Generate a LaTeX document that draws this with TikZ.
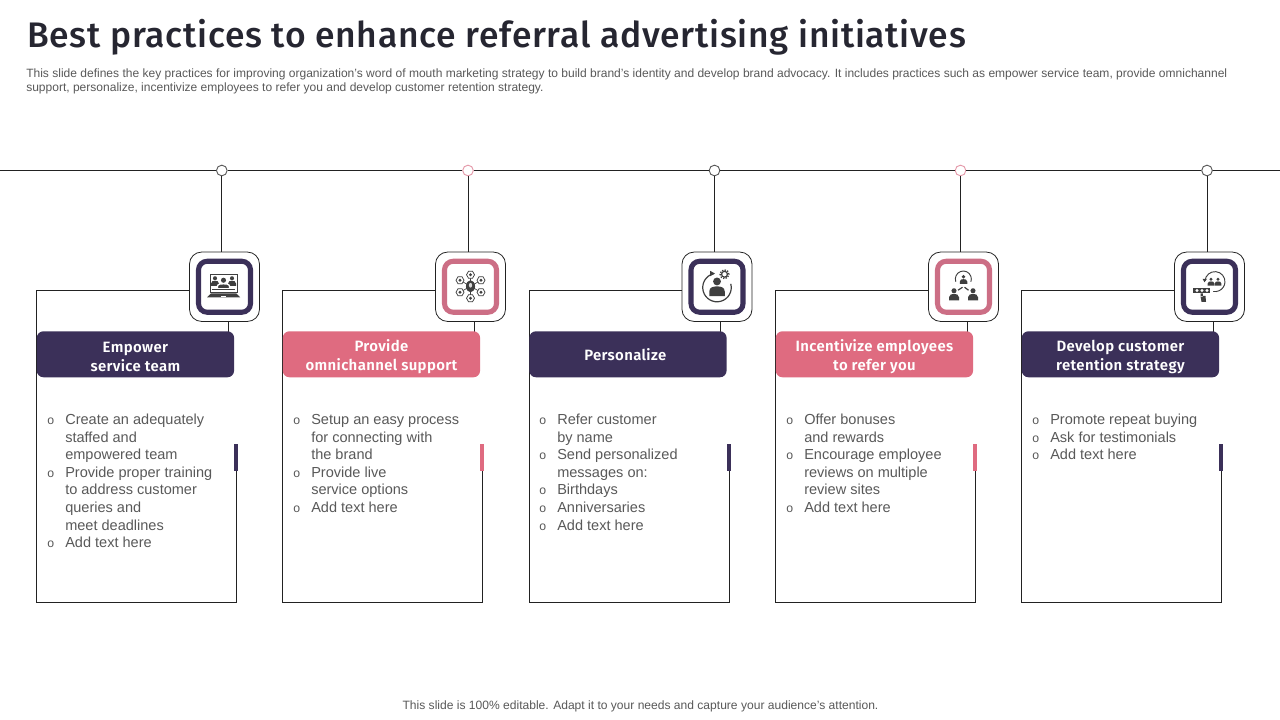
\documentclass[tikz,border=0pt]{standalone}
\usepackage{fontspec}
\setmainfont{Liberation Sans}
\newfontfamily\titlefont[LetterSpace=2.0]{Fira Sans Medium}
\newfontfamily\bannerfont[LetterSpace=2.4]{Fira Sans SemiBold}
\usetikzlibrary{arrows.meta}
\definecolor{navy}{HTML}{3B3059}
\definecolor{rose}{HTML}{DF6B80}
\definecolor{rosering}{HTML}{CC6E85}
\definecolor{rosedot}{HTML}{E59AAA}
\definecolor{dotgrey}{HTML}{5A5A5A}
\definecolor{ink}{HTML}{222222}
\definecolor{glyph}{HTML}{3F3F3F}
\definecolor{bodytext}{HTML}{595959}
\definecolor{smalltext}{HTML}{595959}
\definecolor{titleink}{HTML}{262631}
\tikzset{
  x=0.75pt,y=-0.75pt,
  railline/.style={draw=ink,line width=0.75pt},
  dotnode/.style={circle,draw=#1,fill=white,line width=0.7pt,minimum size=8pt,inner sep=0pt},
  iconbox/.style={draw=ink,fill=white,line width=0.6pt,rounded corners=9pt,minimum width=52.5pt,minimum height=52pt,inner sep=0pt},
  iconring/.style={draw=#1,fill=white,line width=3.8pt,rounded corners=6.5pt},
  bannerbox/.style={fill=#1,rounded corners=5pt,minimum width=148pt,minimum height=34.5pt,inner sep=0pt,anchor=north west},
  bannertext/.style={text=white,align=center,inner sep=0pt,font=\bannerfont\fontsize{11.2}{14.2}\selectfont},
  bodyline/.style={anchor=base west,inner sep=0pt,yshift=-0.3pt,text=bodytext,font=\fontsize{10.9}{13}\selectfont},
  bulletmark/.style={anchor=base west,inner sep=0pt,yshift=-0.3pt,text=bodytext,font=\fontsize{9.2}{11}\selectfont},
  note/.style={anchor=base west,inner sep=0pt,text=smalltext,font=\fontsize{9.02}{11}\selectfont},
  glyl/.style={draw=glyph,line width=0.7pt,fill=none},
}
\newcounter{tc}
\newcommand{\rowtext}[3]{\stepcounter{tc}\node[bodyline] (t\thetc) at (#1,#2) {#3};}
\newcommand{\rowbull}[2]{\stepcounter{tc}\node[bulletmark] (t\thetc) at (#1+10.5,#2) {o};}
\newcommand{\cardframe}[3]{% id, left, colour
  \coordinate (tl#1) at (#2,290);
  \coordinate (bl#1) at (#2,602.5);
  \coordinate (br#1) at (#2+200,602.5);
  \coordinate (rm#1) at (#2+200,460);
  \coordinate (st#1) at (#2+191.5,340);
  \node[iconbox] (icon#1) at (#2+188,286.75) {};
  \draw[railline] (dot#1) -- (dot#1 |- icon#1.north);
  \draw[railline] (icon#1.west |- tl#1) -- (tl#1) -- (bl#1) -- (br#1) -- (rm#1);
  \draw[railline] (st#1 |- icon#1.south) -- (st#1);
  \draw[iconring=#3] ([shift={(-26,-25.5)}]icon#1.center) rectangle ([shift={(26,25.5)}]icon#1.center);
}
\newcommand{\person}[3]{% x,y,scale: head + shoulders
  \fill[glyph] (#1,#2) circle[radius=#3*1.9pt];
  \fill[glyph] (#1-#3*5,#2+#3*9.5) -- (#1-#3*5,#2+#3*6.5) .. controls (#1-#3*5,#2+#3*3.5) and (#1-#3*2,#2+#3*3.2) .. (#1,#2+#3*3.2)
     .. controls (#1+#3*2,#2+#3*3.2) and (#1+#3*5,#2+#3*3.5) .. (#1+#3*5,#2+#3*6.5) -- (#1+#3*5,#2+#3*9.5) -- cycle;
}
\newcommand{\iconlaptop}{%
  \draw[glyl] (-14.5,-12.75) rectangle (12.5,5.25);
  \person{-9.5}{-8.5}{0.8}\person{7.5}{-8.5}{0.8}
  \fill[white] (-1,-6.5) circle[radius=3.2pt];
  \draw[white,line width=1pt,fill=glyph] (-7,2) -- (-7,-0.5) .. controls (-7,-3) and (-3,-3) .. (-1,-3) .. controls (1,-3) and (5,-3) .. (5,-0.5) -- (5,2) -- cycle;
  \fill[glyph] (-1,-6.5) circle[radius=1.9pt];
  \draw[glyph,line width=0.5pt] (-12.5,3) -- (10.5,3);
  \fill[glyph] (-13.5,6.5) -- (11.5,6.5) -- (15.5,10.5) -- (-17.5,10.5) -- cycle;
  \fill[white] (-3.5,9.6) rectangle (1.5,10.5);
}
\newcommand{\hexa}[2]{%
  \draw[glyph,line width=0.55pt,fill=white] (#1+4,#2) -- (#1+2,#2+3.5) -- (#1-2,#2+3.5) -- (#1-4,#2) -- (#1-2,#2-3.5) -- (#1+2,#2-3.5) -- cycle;
  \fill[glyph] (#1,#2) circle[radius=1.2pt];
}
\newcommand{\iconnet}{%
  \draw[glyph,line width=0.5pt] (0,-12) -- (0,12) (-10.5,-6.5) -- (10.5,5.5) (10.5,-6.5) -- (-10.5,5.5);
  \hexa{0}{-12}\hexa{10.5}{-6.5}\hexa{10.5}{5.5}\hexa{0}{11.5}\hexa{-10.5}{5.5}\hexa{-10.5}{-6.5}
  \fill[glyph] (0,-0.5) ellipse[x radius=3.4pt,y radius=4.5pt];
  \fill[white!80!glyph] (0,-1.5) ellipse[x radius=1.2pt,y radius=1.8pt];
}
\newcommand{\iconcycle}{%
  \draw[glyph,line width=0.9pt] (-3.7,-13) arc[start angle=105,end angle=375,radius=10.7pt];
  \fill[glyph] (-7,-16) -- (-2,-13.2) -- (-7,-10.5) -- cycle;
  \person{0}{-5.3}{1.55}
  \draw[glyph,line width=1pt,densely dotted] (7.5,-12.5) circle[radius=3.3pt];
  \draw[glyph,line width=0.9pt] (7.5,-12.5) circle[radius=2.2pt];
}
\newcommand{\iconteam}{%
  \draw[glyl] (-7.7,-5) arc[start angle=200,end angle=-20,radius=6pt];
  \person{0}{-10}{0.75}
  \person{-9.5}{4}{1}
  \person{9.5}{4}{1}
  \draw[glyph,line width=0.9pt] (-5.5,3.5) -- (-1,0.5) (5,3.5) -- (1,0.5);
}
\newcommand{\iconretain}{%
  \draw[glyl] (-4.5,-6) arc[start angle=175,end angle=-100,radius=7.5pt];
  \fill[glyph] (-7,-8) -- (-2.5,-8) -- (-5,-4.5) -- cycle;
  \person{1.5}{-7.5}{0.68}\person{8.5}{-7.5}{0.68}
  \fill[glyph] (-16.2,0.9) rectangle (0.5,6.5);
  \foreach \q in {-12.5,-7.5,-2.5}{\fill[white] (\q,3.7) circle[radius=1.2pt];}
  \fill[glyph] (-8.8,6.5) rectangle (-6.6,10) (-9,9.5) -- (-4,9) -- (-3.5,15) -- (-8,15) -- cycle;
}
\begin{document}
\begin{tikzpicture}
\useasboundingbox (0,0) rectangle (1280,720);
\fill[white] (0,0) rectangle (1280,720);
\node[anchor=base west,inner sep=0pt,text=titleink,font=\titlefont\fontsize{26.6}{32}\selectfont] (title) at (27,47.5) {Best practices to enhance referral advertising initiatives};
\node[note] (desc1) at (26,78) {This slide defines the key practices for improving organization’s word of mouth marketing strategy to build brand’s identity and develop brand advocacy. It includes practices such as empower service team, provide omnichannel};
\node[note] (desc2) at (26,92) {support, personalize, incentivize employees to refer you and develop customer retention strategy.};
\node[anchor=base,inner sep=0pt,text=smalltext,font=\fontsize{9.05}{11}\selectfont] (foot) at (640.5,709.5) {This slide is 100\% editable. Adapt it to your needs and capture your audience’s attention.};
\coordinate (railL) at (0,170.5);
\coordinate (railR) at (1280,170.5);
\node[dotnode=dotgrey] (dot1) at (221.8,170.5) {};
\node[dotnode=rosedot] (dot2) at (468,170.5) {};
\node[dotnode=dotgrey] (dot3) at (714.5,170.5) {};
\node[dotnode=rosedot] (dot4) at (960.5,170.5) {};
\node[dotnode=dotgrey] (dot5) at (1207,170.5) {};
\draw[railline] (railL) -- (dot1) -- (dot2) -- (dot3) -- (dot4) -- (dot5) -- (railR);
\cardframe{1}{36.5}{navy}
\cardframe{2}{282.5}{rosering}
\cardframe{3}{529}{navy}
\cardframe{4}{775.5}{rosering}
\cardframe{5}{1021.5}{navy}
\fill[navy] (36.5+197.5,444) rectangle (36.5+201.5,471);
\fill[rose] (282.5+197.5,444) rectangle (282.5+201.5,471);
\fill[navy] (529+197.5,444) rectangle (529+201.5,471);
\fill[rose] (775.5+197.5,444) rectangle (775.5+201.5,471);
\fill[navy] (1021.5+197.5,444) rectangle (1021.5+201.5,471);
\begin{scope}[shift={(icon1.center)}]\iconlaptop\end{scope}
\begin{scope}[shift={(icon2.center)}]\iconnet\end{scope}
\begin{scope}[shift={(icon3.center)}]\iconcycle\end{scope}
\begin{scope}[shift={(icon4.center)}]\iconteam\end{scope}
\begin{scope}[shift={(icon5.center)}]\iconretain\end{scope}
\node[bannerbox=navy] (banner1) at (36.5,331) {};
\node[bannerbox=rose] (banner2) at (282.5,331) {};
\node[bannerbox=navy] (banner3) at (529,331) {};
\node[bannerbox=rose] (banner4) at (775.5,331) {};
\node[bannerbox=navy] (banner5) at (1021.5,331) {};
\node[bannertext] (label1) at ([yshift=-1.8pt]banner1.center) {Empower\\service team};
\node[bannertext] (label2) at ([yshift=-1.8pt]banner2.center) {Provide\\omnichannel support};
\node[bannertext] (label3) at ([xshift=-2pt,yshift=-0.5pt]banner3.center) {Personalize};
\node[bannertext] (label4) at ([yshift=-1.8pt]banner4.center) {Incentivize employees\\to refer you};
\node[bannertext] (label5) at ([yshift=-1.8pt]banner5.center) {Develop customer\\retention strategy};
\rowbull{36.5}{424}\rowtext{65}{424}{Create an adequately}
\rowtext{65}{441.6}{staffed and}
\rowtext{65}{459.2}{empowered team}
\rowbull{36.5}{476.8}\rowtext{65}{476.8}{Provide proper training}
\rowtext{65}{494.4}{to address customer}
\rowtext{65}{512}{queries and}
\rowtext{65}{529.6}{meet deadlines}
\rowbull{36.5}{547.2}\rowtext{65}{547.2}{Add text here}
\rowbull{282.5}{424}\rowtext{311}{424}{Setup an easy process}
\rowtext{311}{441.6}{for connecting with}
\rowtext{311}{459.2}{the brand}
\rowbull{282.5}{476.8}\rowtext{311}{476.8}{Provide live}
\rowtext{311}{494.4}{service options}
\rowbull{282.5}{512}\rowtext{311}{512}{Add text here}
\rowbull{528.5}{424}\rowtext{557}{424}{Refer customer}
\rowtext{557}{441.6}{by name}
\rowbull{528.5}{459.2}\rowtext{557}{459.2}{Send personalized}
\rowtext{557}{476.8}{messages on:}
\rowbull{528.5}{494.4}\rowtext{557}{494.4}{Birthdays}
\rowbull{528.5}{512}\rowtext{557}{512}{Anniversaries}
\rowbull{528.5}{529.6}\rowtext{557}{529.6}{Add text here}
\rowbull{775.5}{424}\rowtext{804}{424}{Offer bonuses}
\rowtext{804}{441.6}{and rewards}
\rowbull{775.5}{459.2}\rowtext{804}{459.2}{Encourage employee}
\rowtext{804}{476.8}{reviews on multiple}
\rowtext{804}{494.4}{review sites}
\rowbull{775.5}{512}\rowtext{804}{512}{Add text here}
\rowbull{1021.5}{424}\rowtext{1050}{424}{Promote repeat buying}
\rowbull{1021.5}{441.6}\rowtext{1050}{441.6}{Ask for testimonials}
\rowbull{1021.5}{459.2}\rowtext{1050}{459.2}{Add text here}
\end{tikzpicture}
\end{document}
